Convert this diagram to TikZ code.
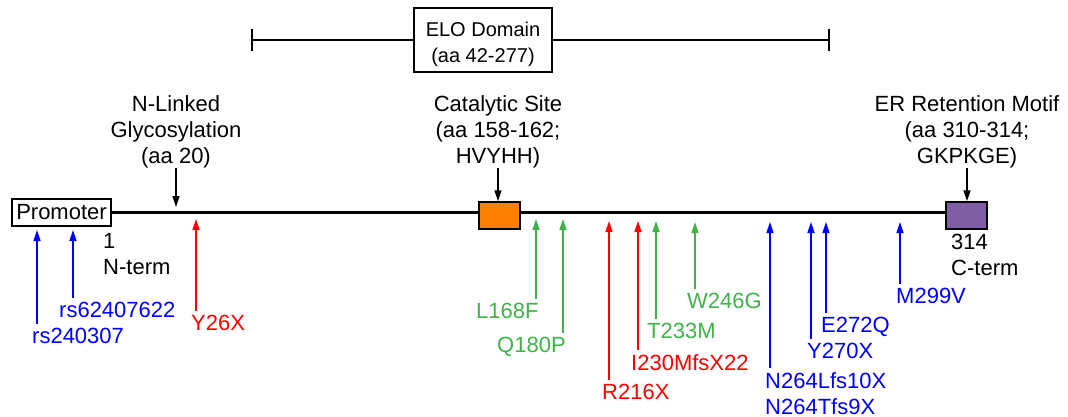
\documentclass[tikz,border=0pt]{standalone}
\usepackage{fontspec}
\setmainfont{Liberation Sans}
\usetikzlibrary{arrows.meta}
\definecolor{mblue}{RGB}{0,0,255}
\definecolor{mred}{RGB}{255,0,0}
\definecolor{mgreen}{RGB}{64,180,72}
\definecolor{catorange}{RGB}{255,128,0}
\definecolor{erpurple}{RGB}{128,94,166}
\newcommand{\mutation}[7]{% name, color, tipx, tipy, lblx, lbly, text
  \coordinate (t#1) at (#3,#4);
  \node[mutlbl, text=#2] (l#1) at (#5,#6) {#7};
  \draw[marrow, #2] ([yshift=4.5pt]l#1.north -| t#1) -- (t#1);
}
\begin{document}
\begin{tikzpicture}[x=1pt,y=-1pt,
  every node/.style={font=\fontsize{22}{26}\selectfont, inner sep=0pt},
  toplbl/.style={align=center, anchor=south},
  mutlbl/.style={anchor=north west},
  endlbl/.style={align=left, anchor=north west},
  marrow/.style={line width=1.6pt, -{Triangle[length=11pt,width=7pt]}},
  karrow/.style={line width=1.6pt, black, -{Triangle[length=11pt,width=7pt]}},
  framebox/.style={draw, line width=1.5pt},
  domainbox/.style={draw, line width=1.5pt, minimum width=41pt, minimum height=27pt}
]
\useasboundingbox (0,0) rectangle (1068,417);

% ELO domain
\coordinate (eloL) at (252,40);
\coordinate (eloR) at (829,40);
\node[framebox, fill=white, minimum width=138pt, minimum height=64pt] (elobox) at (483,40) {};
\node[align=center, anchor=north, font=\fontsize{20}{26}\selectfont] (elotext) at (483,22) {ELO Domain\\(aa 42-277)};
\draw[line width=1.6pt] (eloL) -- (elobox.west);
\draw[line width=1.6pt] (elobox.east) -- (eloR);
\draw[line width=1.6pt] ([yshift=11pt]eloL) -- ([yshift=-11pt]eloL);
\draw[line width=1.6pt] ([yshift=11pt]eloR) -- ([yshift=-11pt]eloR);

% main line and boxes
\node[framebox, minimum width=99pt, minimum height=27pt] (promoter) at (61.5,212.5) {Promoter};
\coordinate (mainR) at (946,212.5);
\draw[line width=3pt] (promoter.east) -- (mainR);
\node[domainbox, fill=catorange] (catbox) at (499.5,215.5) {};
\node[domainbox, fill=erpurple] (erbox) at (966.5,215.5) {};

% end labels
\node[endlbl] (nterm) at (103,233) {1\\N-term};
\node[endlbl] (cterm) at (951,234) {314\\C-term};

% top annotations
\node[toplbl] (glyc) at (176,168) {N-Linked\\Glycosylation\\(aa 20)};
\coordinate (glycT) at (176,207);
\draw[karrow] (glyc.south) -- (glycT);
\node[toplbl] (cat) at (498,168) {Catalytic Site\\(aa 158-162;\\HVYHH)};
\draw[karrow] (cat.south) -- (catbox.north -| cat.south);
\node[toplbl] (er) at (967,168) {ER Retention Motif\\(aa 310-314;\\GKPKGE)};
\draw[karrow] (er.south) -- (erbox.north -| er.south);

% mutations
\mutation{a}{mblue}{37}{230}{32}{328}{rs240307}
\mutation{b}{mblue}{73}{230}{59}{302}{rs62407622}
\mutation{c}{mred}{196}{219}{191}{315}{Y26X}
\mutation{d}{mgreen}{536}{219}{476}{303}{L168F}
\mutation{e}{mgreen}{563}{219}{497}{337}{Q180P}
\mutation{f}{mred}{609}{221}{602}{384}{R216X}
\mutation{g}{mred}{638}{221}{631}{354}{I230MfsX22}
\mutation{h}{mgreen}{656}{221}{647}{323}{T233M}
\mutation{i}{mgreen}{695}{222}{687}{293}{W246G}
\coordinate (tj) at (770,222);
\node[mutlbl, align=left, text=mblue] (lj) at (765,372) {N264Lfs10X\\N264Tfs9X};
\draw[marrow, mblue] ([yshift=4.5pt]lj.north -| tj) -- (tj);
\mutation{k}{mblue}{811}{222}{807}{343}{Y270X}
\mutation{m}{mblue}{826}{222}{821}{317}{E272Q}
\mutation{n}{mblue}{900}{222}{896}{288}{M299V}
\end{tikzpicture}
\end{document}
